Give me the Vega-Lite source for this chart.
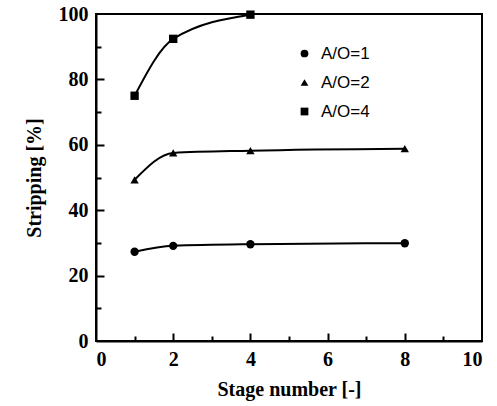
{
  "$schema": "https://vega.github.io/schema/vega-lite/v6.json",
  "width": 386,
  "height": 327,
  "autosize": {"type": "none"},
  "padding": {"left": 96, "top": 14, "right": 15, "bottom": 65},
  "background": "white",
  "config": {
    "view": {"stroke": "black", "strokeWidth": 2}
  },
  "data": {"values": [
    {"stage": 1, "strip": 27.3, "series": "A/O=1"},
    {"stage": 2, "strip": 29.1, "series": "A/O=1"},
    {"stage": 4, "strip": 29.6, "series": "A/O=1"},
    {"stage": 8, "strip": 29.9, "series": "A/O=1"},
    {"stage": 1, "strip": 49.3, "series": "A/O=2"},
    {"stage": 2, "strip": 57.5, "series": "A/O=2"},
    {"stage": 4, "strip": 58.2, "series": "A/O=2"},
    {"stage": 8, "strip": 58.8, "series": "A/O=2"},
    {"stage": 1, "strip": 75, "series": "A/O=4"},
    {"stage": 2, "strip": 92.4, "series": "A/O=4"},
    {"stage": 4, "strip": 99.8, "series": "A/O=4"}
  ]},
  "layer": [
    {
      "mark": {"type": "line", "color": "black", "strokeWidth": 2, "interpolate": "monotone"},
      "encoding": {
        "x": {"field": "stage", "type": "quantitative", "scale": {"domain": [0, 10], "nice": false, "zero": false},
          "axis": {"values": [0, 2, 4, 6, 8, 10], "grid": false, "ticks": false,
            "domainColor": "black", "domainWidth": 2,
            "labelFont": "Liberation Serif", "labelFontWeight": "bold", "labelFontSize": 20, "labelColor": "black", "labelPadding": 8,
            "title": "Stage number [-]", "titleFont": "Liberation Serif", "titleFontWeight": "bold", "titleFontSize": 20, "titleColor": "black", "titlePadding": 10}},
        "y": {"field": "strip", "type": "quantitative", "scale": {"domain": [0, 100], "nice": false, "zero": false},
          "axis": {"values": [0, 20, 40, 60, 80, 100], "grid": false, "ticks": false,
            "domainColor": "black", "domainWidth": 2,
            "labelFont": "Liberation Serif", "labelFontWeight": "bold", "labelFontSize": 20, "labelColor": "black", "labelPadding": 8,
            "title": "Stripping [%]", "titleFont": "Liberation Serif", "titleFontWeight": "bold", "titleFontSize": 20, "titleColor": "black", "titlePadding": 14}},
        "detail": {"field": "series"}
      }
    },
    {
      "mark": {"type": "point", "filled": true, "color": "black", "size": 70, "opacity": 1},
      "encoding": {
        "x": {"field": "stage", "type": "quantitative", "scale": {"domain": [0, 10], "nice": false, "zero": false},
          "axis": {"orient": "top", "offset": -327, "zindex": 1, "values": [1, 2, 3, 4, 5, 6, 7, 8, 9], "grid": false, "ticks": true,
            "tickSize": {"condition": {"test": "datum.value % 2 === 0", "value": 8}, "value": 5},
            "tickWidth": 2, "tickColor": "black", "tickOpacity": 1, "labels": false, "domain": false, "title": null}},
        "y": {"field": "strip", "type": "quantitative", "scale": {"domain": [0, 100], "nice": false, "zero": false},
          "axis": {"orient": "right", "offset": -386, "zindex": 1, "values": [10, 20, 30, 40, 50, 60, 70, 80, 90], "grid": false, "ticks": true,
            "tickSize": {"condition": {"test": "datum.value % 20 === 0", "value": 8}, "value": 5},
            "tickWidth": 2, "tickColor": "black", "tickOpacity": 1, "labels": false, "domain": false, "title": null}},
        "shape": {"field": "series", "type": "nominal",
          "scale": {"domain": ["A/O=1", "A/O=2", "A/O=4"], "range": ["circle", "triangle-up", "square"]},
          "legend": {"title": null, "orient": "none", "legendX": 200, "legendY": 31,
            "labelFont": "Liberation Sans", "labelFontSize": 17, "labelColor": "black",
            "symbolFillColor": "black", "symbolStrokeColor": "black", "symbolSize": 60, "rowPadding": 11, "labelOffset": 8}}
      }
    }
  ],
  "resolve": {"scale": {"x": "independent", "y": "independent"}, "axis": {"x": "independent", "y": "independent"}}
}
